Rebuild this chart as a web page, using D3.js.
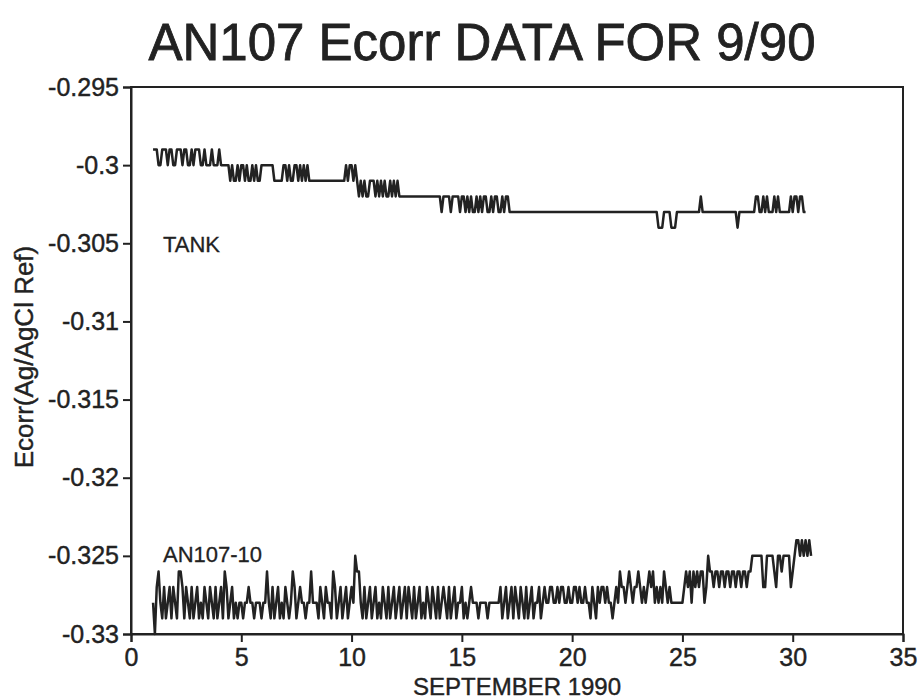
<!DOCTYPE html>
<html>
<head>
<meta charset="utf-8">
<script src="https://cdn.jsdelivr.net/npm/d3@7"></script>
<style>
  html, body { margin: 0; padding: 0; background: #fff; }
  svg { display: block; font-family: "Liberation Sans", Arial, Helvetica, sans-serif; }
</style>
</head>
<body>
<svg id="chart" width="922" height="700"></svg>
<script>
// Axis ticks
const xTicks = [0, 5, 10, 15, 20, 25, 30, 35];
const yTicks = [-0.295, -0.3, -0.305, -0.31, -0.315, -0.32, -0.325, -0.33];

// Logger timing: readings every two hours starting on day 1
const firstDay = 1.0;
const readingsPerDay = 12;

// Tank reference electrode, Ecorr in mV
const tankMv = [
  -299,-299,-299,-300,-300,-299,-299,-299,-300,-299,
  -299,-300,-300,-299,-299,-299,-300,-299,-299,-300,
  -300,-299,-300,-299,-299,-299,-300,-300,-299,-300,
  -300,-300,-299,-300,-300,-300,-299,-300,-300,-300,-300,-300,
  -301,-300,-301,-301,-300,-301,-300,-300,-301,-300,-301,-301,-300,-301,-300,-301,-301,-300,
  -300,-300,-300,-300,-300,-300,
  -301,-301,-301,-301,-301,
  -300,-300,-301,-300,-301,-301,-300,-300,-301,-300,-301,-300,-301,-300,-301,
  -301,-301,-301,-301,-301,-301,-301,-301,-301,-301,
  -301,-301,-301,-301,-301,-301,-301,-301,-301,
  -300,
  -301,-300,-300,-301,-300,-301,
  -302,-301,-302,-301,-302,-302,-301,-301,-301,-302,-301,-302,-301,-302,-301,-302,-302,-301,-302,-301,-302,-301,-302,
  -302,-302,-302,-302,-302,-302,-302,-302,-302,-302,
  -302,-302,-302,-302,-302,-302,-302,-302,-302,-302,
  -302,-302,
  -303,-302,-302,-302,-302,-303,-302,-302,-302,-302,-303,-302,-302,-303,-302,-303,-302,-303,-303,-302,
  -303,-302,-303,-302,-302,-303,-303,-302,-303,-302,-302,-303,-303,-302,-303,-302,-302,-303,
  -303,-303,-303,-303,-303,-303,-303,-303,-303,-303,
  -303,-303,-303,-303,-303,-303,-303,-303,-303,-303,
  -303,-303,-303,-303,-303,-303,-303,-303,-303,-303,
  -303,-303,-303,-303,-303,-303,-303,-303,-303,-303,
  -303,-303,-303,-303,-303,-303,-303,-303,-303,-303,
  -303,-303,-303,-303,-303,-303,-303,-303,-303,-303,
  -303,-303,-303,-303,-303,-303,-303,-303,-303,-303,
  -303,-303,-303,-303,-303,-303,-303,-303,-303,-303,
  -304,-304,-304,
  -303,-303,-303,-303,
  -304,-304,-304,
  -303,-303,-303,-303,-303,-303,-303,-303,-303,-303,-303,-303,-303,
  -302,
  -303,-303,-303,-303,-303,-303,-303,-303,-303,-303,
  -303,-303,-303,-303,-303,-303,-303,-303,-303,
  -304,
  -303,-303,-303,-303,-303,-303,-303,-303,
  -303,-302,-302,-303,-303,-302,-303,-302,-303,-303,-303,-302,-303,-302,-303,
  -303,-303,-303,-303,-303,
  -302,-303,-302,-302,-303,-302,-302,-303,-303
];

// AN107-10 probe, Ecorr in mV
const an107Mv = [
  -328,-330,-327,
  -326,
  -328,-329,-327,-329,-328,-327,-329,-327,-328,-329,
  -326,-326,-327,
  -329,-327,-328,-329,-327,-329,-328,-327,-329,-328,-329,-327,-328,-329,-327,-328,-329,-327,-329,-328,-327,-329,
  -326,
  -327,-329,-328,-327,-329,-328,-329,
  -328,-328,-329,-328,-328,-327,-328,-328,-329,-328,-328,-328,-329,-328,-328,
  -326,
  -328,-329,-327,-329,-328,-327,-329,-328,-329,-327,-328,-329,-328,
  -326,
  -327,-329,-328,-327,-328,-328,-329,-328,-328,
  -326,
  -328,-328,-328,-329,-327,-328,-329,-327,-328,-328,-329,
  -326,
  -327,-329,-328,-327,-329,-328,-327,-329,-328,-327,-328,
  -325,
  -326,-326,
  -328,-329,-327,-329,-328,-327,-329,-328,-327,-329,-328,-329,-327,-328,-329,-327,-329,-328,-327,-329,-328,-327,-329,
  -328,-327,-329,-327,-328,-329,-327,-329,-328,-327,-329,-328,-329,-327,-328,-329,-327,-328,-329,-327,
  -329,-328,-327,-328,-329,-327,-329,-328,-327,-329,-328,-328,-327,-329,-328,-329,-328,
  -327,-328,-328,-328,-329,-328,-328,-328,-328,-329,-328,-328,-328,-328,-328,-328,
  -327,-329,-328,-327,-329,-328,-327,-329,-327,-328,-329,-327,-328,-329,-327,-329,-328,-327,-329,-328,
  -328,-327,-329,-328,-327,-328,-328,
  -327,-327,-328,-328,-327,-328,-327,-327,-328,-328,-327,-328,-328,-327,-327,-328,-327,-328,-328,-327,-328,
  -328,-329,-327,-328,-329,
  -327,-328,-327,-327,-328,-327,-328,-328,-329,-328,-327,-328,
  -326,
  -327,-327,-328,-327,-326,-327,-328,-327,-327,-326,-327,-328,-327,-328,
  -327,-326,-327,-326,-328,-327,-328,-327,-328,-326,-327,-328,-327,-328,
  -328,-328,-328,-328,-328,-328,
  -327,-326,-327,-326,-328,-326,-327,-326,-327,-326,-326,-328,-327,
  -325,
  -326,-326,-327,-326,-326,-327,-326,-326,-327,-326,-326,-327,-326,-326,-327,-326,-326,-327,-326,-326,-327,-326,-326,
  -325,-325,-325,-325,-325,-325,
  -327,-327,
  -325,-325,-325,
  -325,-326,-327,-325,-325,-326,
  -325,-325,-325,-325,
  -327,
  -326,-325,-324,-324,-325,
  -324,-325,-324,-325,-324,-325
];

const W = 922, H = 700;
const margin = { top: 87, right: 19, bottom: 66, left: 131 };
const ink = "#222";

const svg = d3.select("#chart");

const x = d3.scaleLinear().domain([0, 35]).range([margin.left, W - margin.right]);
const y = d3.scaleLinear().domain([-0.33, -0.295]).range([H - margin.bottom, margin.top]);

const toReadings = mv => mv.map((v, i) => ({ day: firstDay + i / readingsPerDay, e: v / 1000 }));
const tank = toReadings(tankMv);
const an107 = toReadings(an107Mv);

// Title
svg.append("text")
  .attr("x", 482).attr("y", 60)
  .attr("text-anchor", "middle")
  .attr("font-size", 51)
  .attr("fill", ink)
  .attr("stroke", ink).attr("stroke-width", 0.8)
  .text("AN107 Ecorr DATA FOR 9/90");

// Plot frame
svg.append("rect")
  .attr("x", margin.left).attr("y", margin.top)
  .attr("width", W - margin.left - margin.right)
  .attr("height", H - margin.top - margin.bottom)
  .attr("fill", "none").attr("stroke", ink).attr("stroke-width", 2);

// Axes
const yAxis = svg.append("g")
  .attr("transform", `translate(${margin.left},0)`)
  .call(d3.axisLeft(y).tickValues(yTicks).tickSize(8).tickPadding(4).tickFormat(d => String(d)));
const xAxis = svg.append("g")
  .attr("transform", `translate(0,${H - margin.bottom})`)
  .call(d3.axisBottom(x).tickValues(xTicks).tickSize(8).tickPadding(6).tickFormat(d => String(d)));

[yAxis, xAxis].forEach(g => {
  g.select(".domain").attr("stroke", ink).attr("stroke-width", 2);
  g.selectAll(".tick line").attr("stroke", ink).attr("stroke-width", 2);
  g.selectAll(".tick text")
    .attr("fill", ink)
    .attr("stroke", ink).attr("stroke-width", 0.4)
    .attr("font-size", 25)
    .attr("font-family", "'Liberation Sans', Arial, sans-serif");
});

// Axis titles
svg.append("text")
  .attr("x", 517).attr("y", 695)
  .attr("text-anchor", "middle")
  .attr("font-size", 24)
  .attr("fill", ink)
  .attr("stroke", ink).attr("stroke-width", 0.4)
  .text("SEPTEMBER 1990");

svg.append("text")
  .attr("transform", "translate(33,357) rotate(-90)")
  .attr("text-anchor", "middle")
  .attr("font-size", 26)
  .attr("fill", ink)
  .attr("stroke", ink).attr("stroke-width", 0.4)
  .text("Ecorr(Ag/AgCl Ref)");

// Series: straight segments between consecutive readings
const line = d3.line()
  .x(d => x(d.day))
  .y(d => y(d.e));

[tank, an107].forEach(series => {
  svg.append("path")
    .datum(series)
    .attr("d", line)
    .attr("fill", "none")
    .attr("stroke", ink)
    .attr("stroke-width", 2.5)
    .attr("stroke-linejoin", "round");
});

// Series labels
svg.append("text")
  .attr("x", 163).attr("y", 252)
  .attr("font-size", 22)
  .attr("fill", ink)
  .attr("stroke", ink).attr("stroke-width", 0.3)
  .text("TANK");

svg.append("text")
  .attr("x", 163).attr("y", 562)
  .attr("font-size", 22)
  .attr("fill", ink)
  .attr("stroke", ink).attr("stroke-width", 0.3)
  .text("AN107-10");
</script>
</body>
</html>
